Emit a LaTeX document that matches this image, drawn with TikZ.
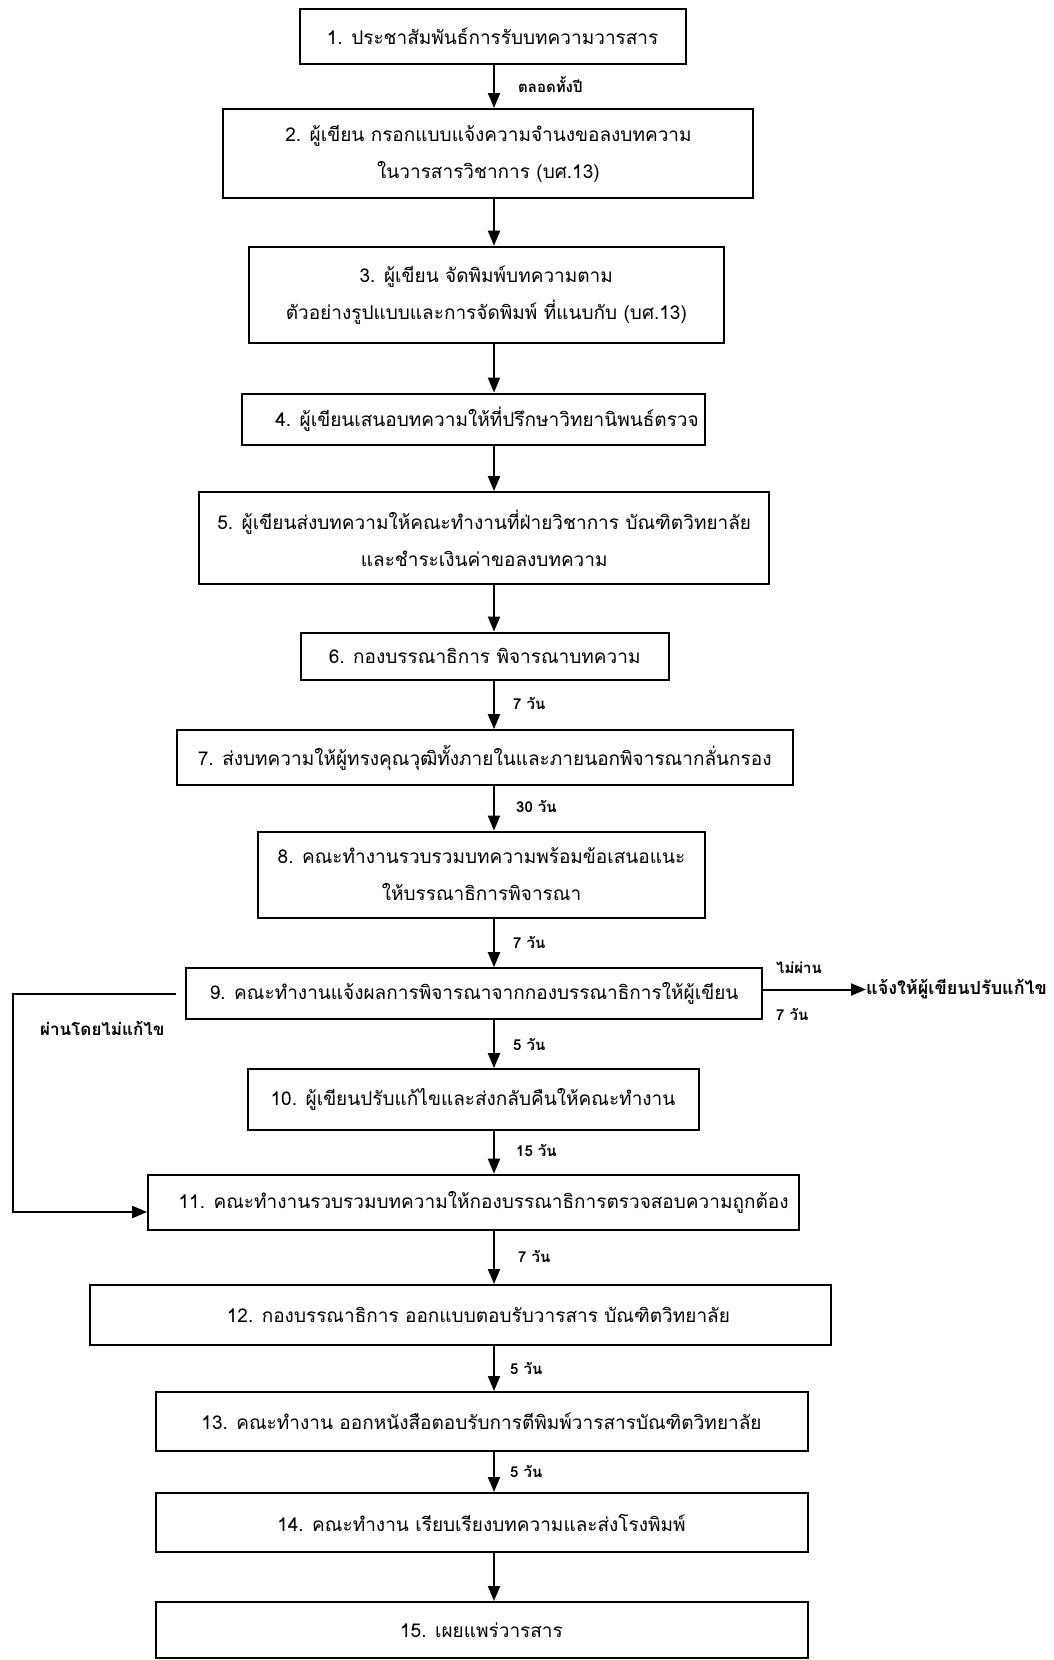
\documentclass[tikz,border=0pt]{standalone}
\usepackage{fontspec}
\usetikzlibrary{arrows.meta}
\newfontfamily\thai[Script=Thai]{Loma}
\tikzset{
  box/.style={draw, line width=2pt, inner sep=0pt, align=center,
    font=\thai\fontsize{19}{37}\selectfont},
  arr/.style={line width=2pt, -{Triangle[length=15pt,width=12pt]}},
  lbl/.style={anchor=west, inner sep=0pt, font=\thai\bfseries\fontsize{15}{18}\selectfont},
}
\begin{document}
\begin{tikzpicture}[x=1pt,y=-1pt]
\useasboundingbox (0,0) rectangle (1053,1660);
\coordinate (ax) at (494,0);
\node[box, minimum width=386pt, minimum height=55pt] (b1) at (492.6,36) {1. ประชาสัมพันธ์การรับบทความวารสาร};
\node[box, minimum width=530pt, minimum height=89pt] (b2) at (488.4,153.5) {2. ผู้เขียน กรอกแบบแจ้งความจำนงขอลงบทความ\\ในวารสารวิชาการ (บศ.13)};
\node[box, minimum width=475pt, minimum height=96pt] (b3) at (486.3,294.7) {3. ผู้เขียน จัดพิมพ์บทความตาม\\ตัวอย่างรูปแบบและการจัดพิมพ์ ที่แนบกับ (บศ.13)};
\node[box, minimum width=463pt, minimum height=51pt] (b4) at (473,419.1) {\hspace*{28pt}4. ผู้เขียนเสนอบทความให้ที่ปรึกษาวิทยานิพนธ์ตรวจ};
\node[box, minimum width=570pt, minimum height=92pt] (b5) at (484.2,538.1) {5. ผู้เขียนส่งบทความให้คณะทำงานที่ฝ่ายวิชาการ บัณฑิตวิทยาลัย\\และชำระเงินค่าขอลงบทความ};
\node[box, minimum width=368pt, minimum height=47pt] (b6) at (484.7,656.1) {6. กองบรรณาธิการ พิจารณาบทความ};
\node[box, minimum width=616pt, minimum height=55pt] (b7) at (484.7,757.7) {7. ส่งบทความให้ผู้ทรงคุณวุฒิทั้งภายในและภายนอกพิจารณากลั่นกรอง};
\node[box, minimum width=447pt, minimum height=86pt] (b8) at (481.5,874.6) {8. คณะทำงานรวบรวมบทความพร้อมข้อเสนอแนะ\\ให้บรรณาธิการพิจารณา};
\node[box, minimum width=576pt, minimum height=51pt] (b9) at (474.1,993.7) {9. คณะทำงานแจ้งผลการพิจารณาจากกองบรรณาธิการให้ผู้เขียน};
\node[box, minimum width=451pt, minimum height=61pt] (b10) at (473,1099.6) {10. ผู้เขียนปรับแก้ไขและส่งกลับคืนให้คณะทำงาน};
\node[box, minimum width=651pt, minimum height=55pt] (b11) at (473.6,1202.2) {\hspace*{20pt}11. คณะทำงานรวบรวมบทความให้กองบรรณาธิการตรวจสอบความถูกต้อง};
\node[box, minimum width=741pt, minimum height=60pt] (b12) at (460.4,1315) {\hspace*{36pt}12. กองบรรณาธิการ ออกแบบตอบรับวารสาร บัณฑิตวิทยาลัย};
\node[box, minimum width=652pt, minimum height=59pt] (b13) at (481.5,1421.5) {13. คณะทำงาน ออกหนังสือตอบรับการตีพิมพ์วารสารบัณฑิตวิทยาลัย};
\node[box, minimum width=652pt, minimum height=59pt] (b14) at (481.5,1522.5) {14. คณะทำงาน เรียบเรียงบทความและส่งโรงพิมพ์};
\node[box, minimum width=652pt, minimum height=56pt] (b15) at (481.5,1630) {15. เผยแพร่วารสาร};
% main arrows
\foreach \a/\b in {b1/b2,b2/b3,b3/b4,b4/b5,b5/b6,b6/b7,b7/b8,b8/b9,b9/b10,b10/b11,b11/b12,b12/b13,b13/b14,b14/b15}
  \draw[arr] (\a.south -| ax) -- (\b.north -| ax);
% arrow labels
\node[lbl] (l1) at (518,84.7) {ตลอดทั้งปี};
\node[lbl] (l6) at (513,703.8) {7 วัน};
\node[lbl] (l7) at (516,806.4) {30 วัน};
\node[lbl] (l8) at (513,942) {7 วัน};
\node[lbl] (l9) at (513,1044.5) {5 วัน};
\node[lbl] (l10) at (516,1150.4) {15 วัน};
\node[lbl] (l11) at (518,1256) {7 วัน};
\node[lbl] (l12) at (510,1368) {5 วัน};
\node[lbl] (l13) at (510,1471) {5 วัน};
% right branch
\node[lbl, font=\thai\bfseries\fontsize{18}{20}\selectfont] (side) at (866,989.5) {แจ้งให้ผู้เขียนปรับแก้ไข};
\draw[arr] (b9.east |- side.west) -- (side.west);
\node[lbl] (np) at (776,968) {ไม่ผ่าน};
\node[lbl] (np7) at (776,1014) {7 วัน};
% left branch
\coordinate (fb) at (12.7,1212);
\draw[arr] ([xshift=-9pt]b9.west) -| (fb) -- (fb -| b11.west);
\node[lbl, font=\thai\bfseries\fontsize{17}{20}\selectfont] (pass) at (40,1028.6) {ผ่านโดยไม่แก้ไข};
\end{tikzpicture}
\end{document}
